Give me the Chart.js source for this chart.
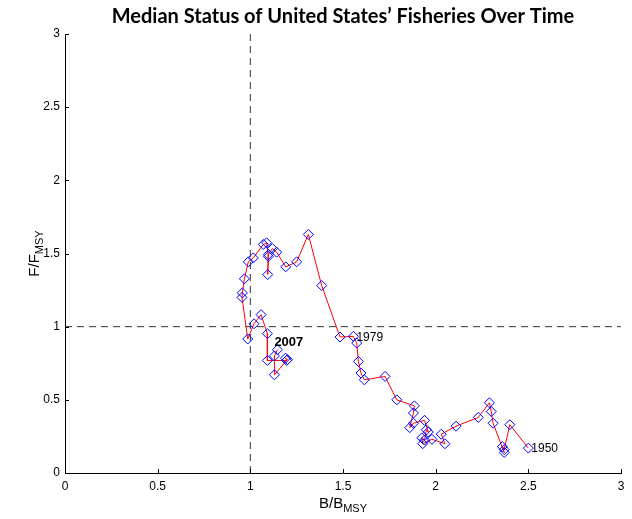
<!DOCTYPE html>
<html><head><meta charset="utf-8">
<script src="https://cdn.jsdelivr.net/npm/chart.js@4.4.0/dist/chart.umd.min.js"></script>
<style>html,body{margin:0;padding:0;background:#fff}#wrap{width:632px;height:519px;position:relative}</style>
</head><body><div id="wrap"><canvas id="c"></canvas></div>
<script>
const years = [];
for (let y = 1950; y <= 2007; y++) years.push(y);
const bRatio = [2.50,2.40,2.37,2.36,2.37,2.31,2.30,2.29,2.23,2.11,
  2.03,2.05,1.98,1.93,1.925,1.94,1.95,1.96,1.94,1.88,
  1.86,1.88,1.885,1.79,1.727,1.615,1.597,1.583,1.574,1.556,
  1.484,1.385,1.313,1.25,1.191,1.142,1.119,1.097,1.094,1.097,
  1.088,1.07,1.016,0.989,0.968,0.957,0.955,0.986,1.02,1.058,
  1.092,1.092,1.196,1.19,1.20,1.13,1.13,1.146];
const fRatio = [0.17,0.33,0.16,0.18,0.14,0.34,0.42,0.48,0.38,0.32,
  0.265,0.20,0.23,0.20,0.24,0.225,0.295,0.28,0.36,0.34,
  0.31,0.41,0.459,0.50,0.66,0.637,0.683,0.762,0.888,0.934,
  0.929,1.281,1.63,1.443,1.409,1.509,1.534,1.493,1.356,1.48,
  1.573,1.562,1.47,1.443,1.327,1.231,1.20,0.916,1.02,1.082,
  0.952,0.769,0.769,0.785,0.775,0.671,0.80,0.842];
const xTicks = [0,0.5,1,1.5,2,2.5,3];
const yTicks = [0,0.5,1,1.5,2,2.5,3];
const labeledYears = [1950,1979,2007];
const refB = 1, refF = 1;
const titleText = 'Median Status of United States\u2019 Fisheries Over Time';

const points = bRatio.map((b,i)=>({x:b,y:fRatio[i]}));

const decor = {
  id:'decor',
  afterDraw(chart){
    const ctx = chart.ctx, xs = chart.scales.x, ys = chart.scales.y, a = chart.chartArea;
    ctx.save();
    ctx.strokeStyle = '#000'; ctx.lineWidth = 1;
    xTicks.forEach(v=>{const px=Math.round(xs.getPixelForValue(v))+0.5;ctx.beginPath();ctx.moveTo(px,a.bottom);ctx.lineTo(px,a.bottom-4);ctx.stroke();});
    yTicks.forEach(v=>{const py=Math.round(ys.getPixelForValue(v))+0.5;ctx.beginPath();ctx.moveTo(a.left,py);ctx.lineTo(a.left+4,py);ctx.stroke();});
    ctx.fillStyle = '#000';
    ctx.font = 'bold 20px Lato';
    ctx.textAlign = 'center'; ctx.textBaseline = 'alphabetic';
    ctx.fillText(titleText, (a.left+a.right)/2, 23);
    const drawSub = (main, sub, x, y, rot) => {
      ctx.save();
      ctx.translate(x,y); if (rot) ctx.rotate(-Math.PI/2);
      ctx.font = '15px "Liberation Sans"';
      const w1 = ctx.measureText(main).width;
      ctx.font = '11px "Liberation Sans"';
      const w2 = ctx.measureText(sub).width;
      const start = -(w1+w2)/2;
      ctx.textAlign='left';
      ctx.font = '15px "Liberation Sans"';
      ctx.fillText(main, start, 0);
      ctx.font = '11px "Liberation Sans"';
      ctx.fillText(sub, start+w1, 4);
      ctx.restore();
    };
    drawSub('B/B','MSY', (a.left+a.right)/2, 508, false);
    drawSub('F/F','MSY', 39, (a.top+a.bottom)/2, true);
    const meta = chart.getDatasetMeta(0);
    labeledYears.forEach(yr=>{
      const i = years.indexOf(yr); const el = meta.data[i];
      ctx.textAlign='left'; ctx.textBaseline='middle';
      if (yr === 2007) {
        ctx.font = 'bold 13px "Liberation Sans"';
        ctx.fillText(String(yr), el.x-3, el.y-7);
      } else {
        ctx.font = '12px "Liberation Sans"';
        ctx.fillText(String(yr), el.x+3, el.y+1);
      }
    });
    ctx.restore();
  }
};

new Chart(document.getElementById('c'), {
  type:'scatter',
  data:{datasets:[
    {data:points, showLine:true, borderColor:'#ff0000', borderWidth:1,
     pointStyle:'rectRot', pointRadius:5, pointHoverRadius:5,
     pointBorderColor:'#0000ff', pointBackgroundColor:'rgba(0,0,0,0)', pointBorderWidth:1, order:1},
    {data:[{x:refB,y:0},{x:refB,y:3}], showLine:true, borderColor:'#333', borderWidth:1, borderDash:[7,5], pointRadius:0, order:2},
    {data:[{x:0,y:refF},{x:3,y:refF}], showLine:true, borderColor:'#333', borderWidth:1, borderDash:[7,5], pointRadius:0, order:2}
  ]},
  options:{
    responsive:true, maintainAspectRatio:false, animation:false,
    layout:{padding:{top:34,right:11,left:0,bottom:0}},
    plugins:{legend:{display:false}, tooltip:{enabled:false}, title:{display:false}},
    scales:{
      x:{type:'linear', min:0, max:3,
         afterBuildTicks:s=>{s.ticks = xTicks.map(v=>({value:v}));},
         afterFit:s=>{s.height=46;},
         grid:{display:true, drawOnChartArea:false, drawTicks:false},
         border:{display:true,color:'#000',width:1},
         ticks:{padding:6, color:'#000', font:{family:'Liberation Sans', size:12}, callback:v=>String(v), maxRotation:0}},
      y:{type:'linear', min:0, max:3,
         afterBuildTicks:s=>{s.ticks = yTicks.map(v=>({value:v}));},
         afterFit:s=>{s.width=65;},
         grid:{display:true, drawOnChartArea:false, drawTicks:false},
         border:{display:true,color:'#000',width:1},
         ticks:{padding:5, color:'#000', font:{family:'Liberation Sans', size:12}, callback:v=>String(v)}}
    }
  },
  plugins:[decor]
});
</script></body></html>
